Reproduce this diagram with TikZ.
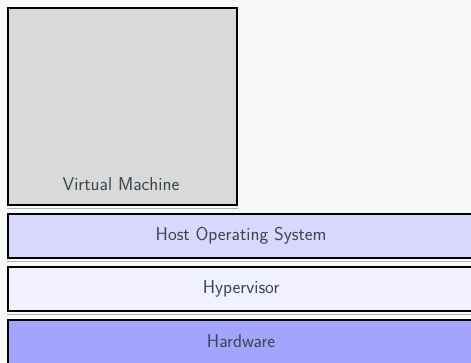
\documentclass[tikz,border=0pt]{standalone}
\usepackage{xcolor}
\definecolor{bgc}{HTML}{F9F9F9}
\definecolor{vmc}{HTML}{D9D9D9}
\definecolor{hosc}{HTML}{D8D8FF}
\definecolor{hypc}{HTML}{F1F1FF}
\definecolor{hwc}{HTML}{A4A4FF}
\definecolor{txtc}{HTML}{3A464E}
\begin{document}
\begin{tikzpicture}[x=1pt,y=-1pt,
  lbl/.style={text=txtc,font=\sffamily\fontsize{18.6}{21}\selectfont},
  layer/.style={lbl,draw=black,line width=2.2pt,minimum height=44pt,inner sep=0pt,anchor=north west},
  shadowline/.style={draw=black!30,line width=1pt}]
\useasboundingbox[fill=bgc] (0,0) rectangle (471,362);
\node[layer,fill=vmc,minimum width=229pt,minimum height=197pt] (vm) at (7,7) {};
\node[lbl] (vmlabel) at (121,184) {Virtual Machine};
\node[layer,fill=hosc,minimum width=466pt] (hos) at (7,213) {Host Operating System};
\node[layer,fill=hypc,minimum width=466pt] (hyp) at (7,266) {Hypervisor};
\node[layer,fill=hwc,minimum width=466pt] (hw) at (7,318.5) {Hardware};
\draw[shadowline] ([yshift=-2pt]vm.south west) -- ([yshift=-2pt]vm.south east);
\draw[shadowline] ([yshift=-2pt]hos.south west) -- ([yshift=-2pt]hos.south east);
\draw[shadowline] ([yshift=-2pt]hyp.south west) -- ([yshift=-2pt]hyp.south east);
\end{tikzpicture}
\end{document}
